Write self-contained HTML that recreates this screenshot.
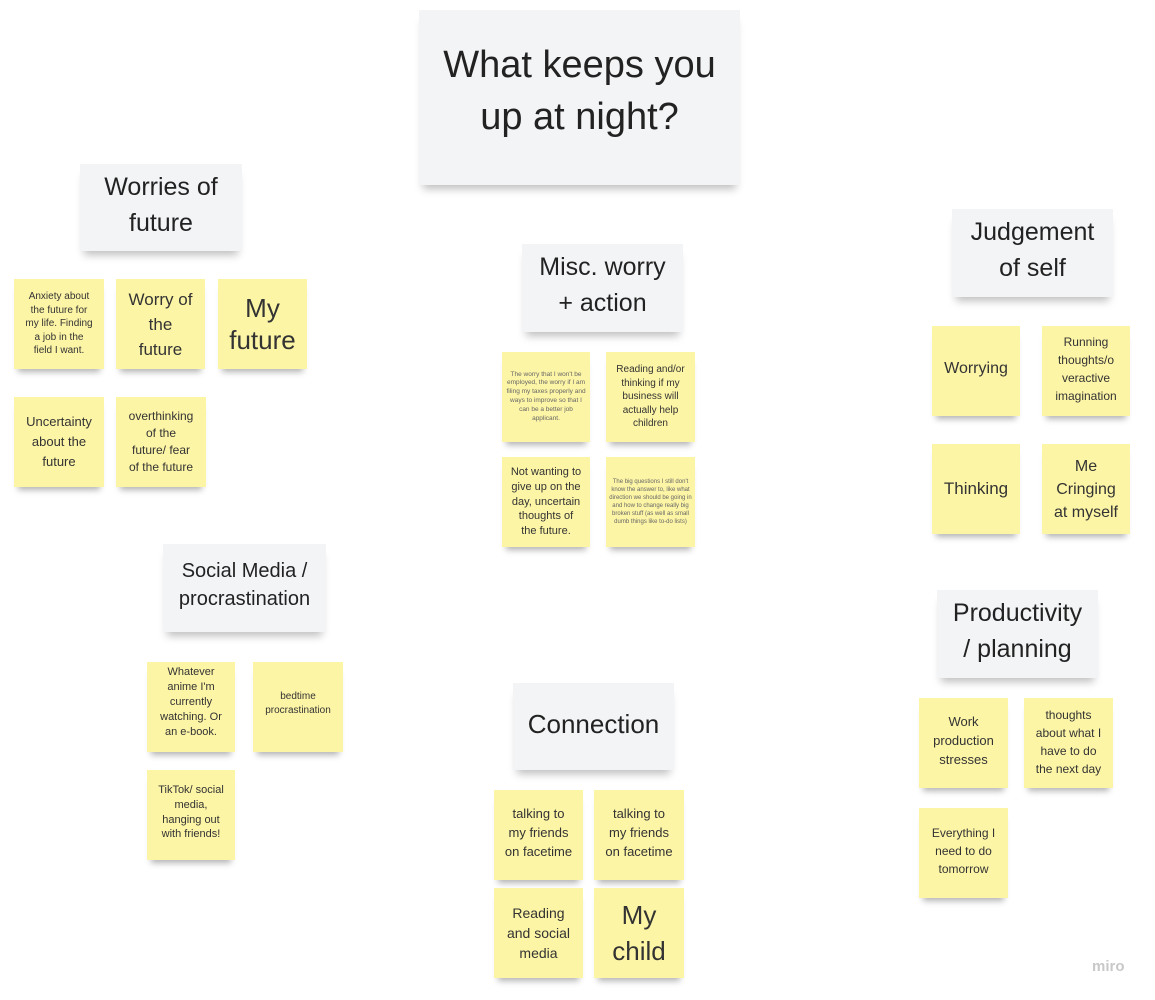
<!DOCTYPE html><html><head><style>
body{margin:0;width:1155px;height:1000px;background:#fff;position:relative;overflow:hidden;font-family:"Liberation Sans",sans-serif;color:#222}
.h,.n{position:absolute;display:flex;align-items:center;justify-content:center;text-align:center;box-sizing:border-box}
.h{background:#f3f4f6;box-shadow:0 8px 8px -4px rgba(0,0,0,.25);font-size:25px;line-height:36px;color:#222;padding-bottom:6px}
.n{background:#fdf5a6;box-shadow:0 7px 6px -4px rgba(0,0,0,.3);padding:3px;line-height:1.35;color:#333}
</style></head><body>
<div class="h" style="left:419px;top:10px;width:321px;height:175px;font-size:38px;line-height:52px;padding-bottom:14px">What keeps you<br>up at night?</div>

<div class="h" style="left:80px;top:164px;width:162px;height:87px">Worries of<br>future</div>
<div class="n" style="left:14px;top:279px;width:90px;height:90px;font-size:10px">Anxiety about<br>the future for<br>my life. Finding<br>a job in the<br>field I want.</div>
<div class="n" style="left:116px;top:279px;width:89px;height:90px;font-size:17px;line-height:25px">Worry of<br>the<br>future</div>
<div class="n" style="left:218px;top:279px;width:89px;height:90px;font-size:26px;line-height:32px">My<br>future</div>
<div class="n" style="left:14px;top:397px;width:90px;height:90px;font-size:13px;line-height:20px">Uncertainty<br>about the<br>future</div>
<div class="n" style="left:116px;top:397px;width:90px;height:90px;font-size:12px;line-height:17px">overthinking<br>of the<br>future/ fear<br>of the future</div>

<div class="h" style="left:163px;top:544px;width:163px;height:88px;font-size:20px;line-height:28px">Social Media /<br>procrastination</div>
<div class="n" style="left:147px;top:662px;width:88px;height:90px;font-size:11px;padding-bottom:12px">Whatever<br>anime I'm<br>currently<br>watching. Or<br>an e-book.</div>
<div class="n" style="left:253px;top:662px;width:90px;height:90px;font-size:10px;padding-bottom:10px">bedtime<br>procrastination</div>
<div class="n" style="left:147px;top:770px;width:88px;height:90px;font-size:11px;padding-bottom:8px">TikTok/ social<br>media,<br>hanging out<br>with friends!</div>

<div class="h" style="left:522px;top:244px;width:161px;height:88px">Misc. worry<br>+ action</div>
<div class="n" style="left:502px;top:352px;width:88px;height:90px;font-size:6.5px;color:#666">The worry that I won't be employed, the worry if I am filing my taxes properly and ways to improve so that I can be a better job applicant.</div>
<div class="n" style="left:606px;top:352px;width:89px;height:90px;font-size:10px">Reading and/or<br>thinking if my<br>business will<br>actually help<br>children</div>
<div class="n" style="left:502px;top:457px;width:88px;height:90px;font-size:11px">Not wanting to<br>give up on the<br>day, uncertain<br>thoughts of<br>the future.</div>
<div class="n" style="left:606px;top:457px;width:89px;height:90px;font-size:6px;color:#666">The big questions I still don't know the answer to, like what direction we should be going in and how to change really big broken stuff (as well as small dumb things like to-do lists)</div>

<div class="h" style="left:513px;top:683px;width:161px;height:87px;font-size:26px">Connection</div>
<div class="n" style="left:494px;top:790px;width:89px;height:90px;font-size:13px;line-height:19px;padding-bottom:8px">talking to<br>my friends<br>on facetime</div>
<div class="n" style="left:594px;top:790px;width:90px;height:90px;font-size:13px;line-height:19px;padding-bottom:8px">talking to<br>my friends<br>on facetime</div>
<div class="n" style="left:494px;top:888px;width:89px;height:90px;font-size:14px;line-height:20px">Reading<br>and social<br>media</div>
<div class="n" style="left:594px;top:888px;width:90px;height:90px;font-size:26px;line-height:36px">My<br>child</div>

<div class="h" style="left:952px;top:209px;width:161px;height:88px">Judgement<br>of self</div>
<div class="n" style="left:932px;top:326px;width:88px;height:90px;font-size:16px;padding-bottom:8px">Worrying</div>
<div class="n" style="left:1042px;top:326px;width:88px;height:90px;font-size:12px;line-height:18px;padding-bottom:8px">Running<br>thoughts/o<br>veractive<br>imagination</div>
<div class="n" style="left:932px;top:444px;width:88px;height:90px;font-size:17px">Thinking</div>
<div class="n" style="left:1042px;top:444px;width:88px;height:90px;font-size:16px;line-height:23px">Me<br>Cringing<br>at myself</div>

<div class="h" style="left:937px;top:590px;width:161px;height:88px">Productivity<br>/ planning</div>
<div class="n" style="left:919px;top:698px;width:89px;height:90px;font-size:13px;line-height:19px;padding-bottom:8px">Work<br>production<br>stresses</div>
<div class="n" style="left:1024px;top:698px;width:89px;height:90px;font-size:12px;line-height:18px;padding-bottom:6px">thoughts<br>about what I<br>have to do<br>the next day</div>
<div class="n" style="left:919px;top:808px;width:89px;height:90px;font-size:12px;line-height:18px;padding-bottom:8px">Everything I<br>need to do<br>tomorrow</div>

<div style="position:absolute;left:1092px;top:958px;font-size:15px;font-weight:bold;color:#c8c8c8">miro</div>
</body></html>
